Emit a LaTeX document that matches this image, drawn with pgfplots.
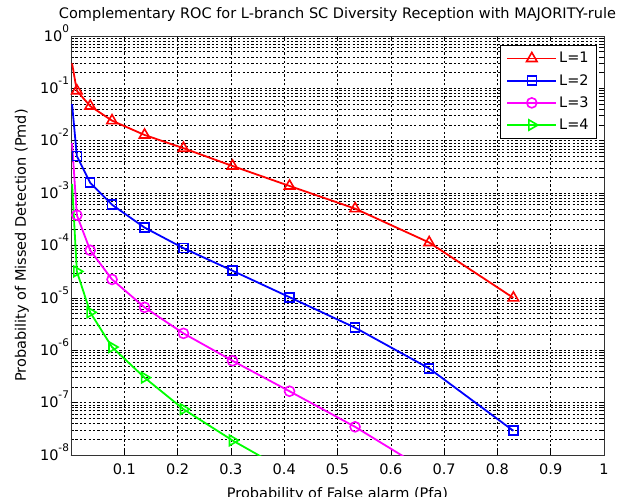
\documentclass[border=0pt]{standalone}
\usepackage{pgfplots}
\pgfplotsset{compat=1.18}
\usepackage{fontspec}
\setmainfont{DejaVu Sans}
\definecolor{mred}{rgb}{1,0,0}
\definecolor{mblue}{rgb}{0,0,1}
\definecolor{mmag}{rgb}{1,0,1}
\definecolor{mgreen}{rgb}{0,1,0}
\newcommand{\ex}[1]{10\raisebox{9pt}{\fontsize{10.5}{12}\selectfont #1}}

\begin{document}
\begin{tikzpicture}
\begin{axis}[
    at={(0pt,0pt)}, anchor=south west,
    width=533pt, height=419pt,
    scale only axis,
    ymode=log,
    xmin=0, xmax=1,
    ymin=1e-8, ymax=1,
    xtick={0.1,0.2,0.3,0.4,0.5,0.6,0.7,0.8,0.9,1},
    xticklabels={0.1,0.2,0.3,0.4,0.5,0.6,0.7,0.8,0.9,1},
    ytick={1e-8,1e-7,1e-6,1e-5,1e-4,1e-3,1e-2,1e-1,1},
    yticklabels={\ex{-8},\ex{-7},\ex{-6},\ex{-5},\ex{-4},\ex{-3},\ex{-2},\ex{-1},\ex{0}},
    minor x tick num=0,
    tick align=inside,
    major tick length=5pt,
    minor tick length=3pt,
    tick style={black, line width=0.6pt},
    grid=both,
    major grid style={black, line width=0.6pt, dash pattern=on 2.2pt off 2.2pt},
    minor grid style={black, line width=0.6pt, dash pattern=on 2.2pt off 2.2pt},
    axis line style={black!80, line width=0.8pt},
    tick label style={font=\fontsize{14.5}{16}\selectfont},
    xticklabel style={yshift=-5pt},
    yticklabel style={anchor=base east, yshift=-5.2pt, xshift=1.5pt},
    title={Complementary ROC for L-branch SC Diversity Reception with MAJORITY-rule},
    title style={font=\fontsize{14.5}{16}\selectfont, at={(axis description cs:0.5,1)}, anchor=base, yshift=12pt},
    xlabel={Probability of False alarm (Pfa)},
    xlabel style={font=\fontsize{14.5}{16}\selectfont, at={(axis description cs:0.5,0)}, anchor=base, yshift=-43pt},
    ylabel={Probability of Missed Detection (Pmd)},
    ylabel style={font=\fontsize{14.5}{16}\selectfont, at={(axis description cs:-0.092,0.5)}, anchor=center},
    legend style={at={(axis description cs:0.987,0.9785)}, anchor=north east,
        font=\fontsize{14.5}{16}\selectfont, draw=black, line width=0.8pt,
        row sep=6pt, inner xsep=6pt, inner ysep=5pt},
    legend cell align=left,
    legend image code/.code={\draw[#1, mark indices={2}] plot coordinates {(0pt,0pt) (24.5pt,0pt) (49pt,0pt)};},
]

% Pfa shared by all curves
\addplot[mred, line width=1.8pt, mark=triangle, mark size=6pt, mark options={line width=1.6pt}, mark indices={2,...,11}]
table[x=pfa, y=pmd] {
pfa    pmd
0.002  0.30
0.011  0.090
0.036  0.046
0.077  0.0242
0.138  0.0129
0.211  0.0072
0.303  0.0033
0.410  0.00137
0.533  5.06e-4
0.672  1.14e-4
0.830  1.0e-5
};
\addlegendentry{L=1}

\addplot[mblue, line width=1.8pt, mark=square, mark size=4.5pt, mark options={line width=1.6pt}, mark indices={2,...,11}]
table[x=pfa, y=pmd] {
pfa    pmd
0.002  0.05
0.011  5.1e-3
0.036  1.58e-3
0.077  6.0e-4
0.138  2.2e-4
0.211  8.9e-5
0.303  3.3e-5
0.410  1.03e-5
0.533  2.7e-6
0.672  4.5e-7
0.830  2.9e-8
};
\addlegendentry{L=2}

\addplot[mmag, line width=1.8pt, mark=o, mark size=5pt, mark options={line width=1.6pt}, mark indices={2,...,9}]
table[x=pfa, y=pmd] {
pfa    pmd
0.002  0.009
0.011  3.8e-4
0.036  8.1e-5
0.077  2.25e-5
0.138  6.6e-6
0.211  2.1e-6
0.303  6.3e-7
0.410  1.65e-7
0.533  3.45e-8
0.672  4.7e-9
};
\addlegendentry{L=3}

\addplot[mgreen, line width=1.8pt, mark=triangle, mark size=6pt, mark options={line width=1.6pt, rotate=-90}, mark indices={2,...,7}]
table[x=pfa, y=pmd] {
pfa    pmd
0.002  0.0015
0.011  3.2e-5
0.036  5.3e-6
0.077  1.15e-6
0.138  3.0e-7
0.211  7.5e-8
0.303  1.9e-8
0.410  4.6e-9
};
\addlegendentry{L=4}

\end{axis}
\pgfresetboundingbox
\useasboundingbox (-71pt,-41pt) rectangle (559pt,455pt);
\end{tikzpicture}
\end{document}
